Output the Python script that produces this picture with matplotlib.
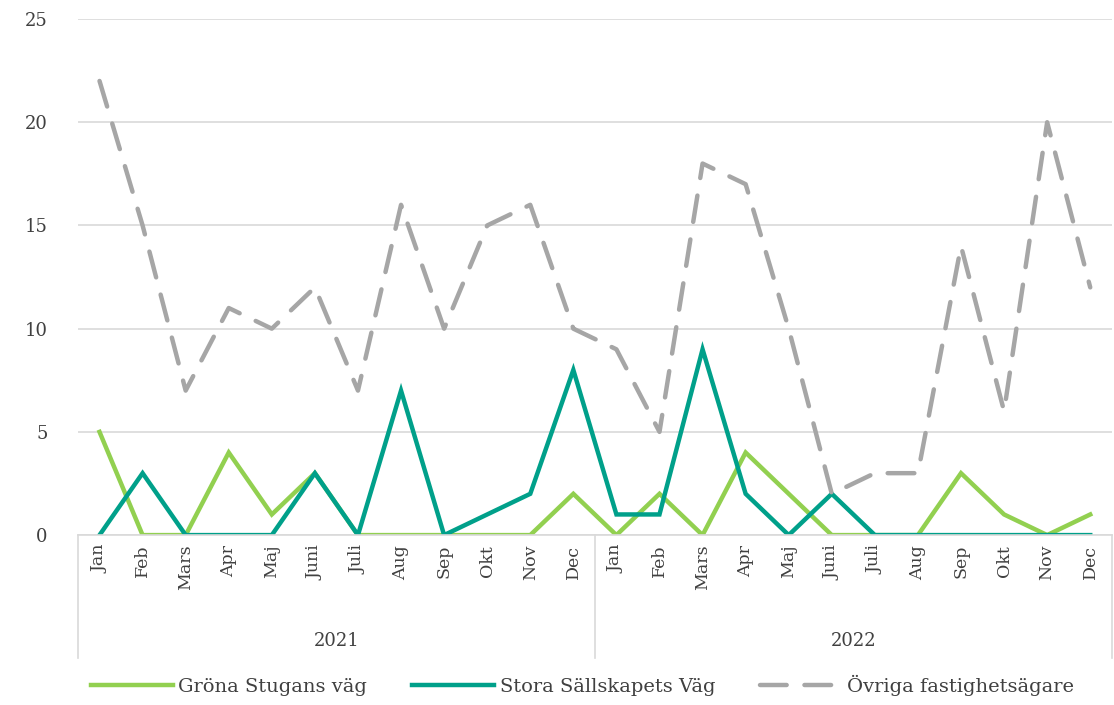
import matplotlib.pyplot as plt
import matplotlib.transforms as mtransforms

plt.rcParams['font.family'] = ['DejaVu Serif']

months = ["Jan", "Feb", "Mars", "Apr", "Maj", "Juni", "Juli", "Aug", "Sep", "Okt", "Nov", "Dec"]
years = ["2021", "2022"]

grona = [5, 0, 0, 4, 1, 3, 0, 0, 0, 0, 0, 2,
         0, 2, 0, 4, 2, 0, 0, 0, 3, 1, 0, 1]
stora = [0, 3, 0, 0, 0, 3, 0, 7, 0, 1, 2, 8,
         1, 1, 9, 2, 0, 2, 0, 0, 0, 0, 0, 0]
ovriga = [22, 15, 7, 11, 10, 12, 7, 16, 10, 15, 16, 10,
          9, 5, 18, 17, 10, 2, 3, 3, 14, 6, 20, 12]

labels = months * len(years)
x = list(range(len(labels)))

fig = plt.figure(figsize=(11.14, 7.05), dpi=100)
ax = fig.add_axes([0.07, 0.241, 0.928, 0.732])

ax.plot(x, grona, color='#92D050', lw=3.2, label='Gröna Stugans väg', solid_joinstyle='miter')
ax.plot(x, stora, color='#00A08A', lw=3.2, label='Stora Sällskapets Väg', solid_joinstyle='miter')
ax.plot(x, ovriga, color='#A6A6A6', lw=3.2, ls=(0, (6, 4)), dash_capstyle='round',
        label='Övriga fastighetsägare')

ax.set_xlim(-0.5, len(labels) - 0.5)
ax.set_ylim(0, 25)
ax.set_yticks(range(0, 26, 5))
ax.grid(axis='y', color='#D9D9D9', lw=1.2)
ax.set_axisbelow(True)
for s in ['top', 'right', 'left']:
    ax.spines[s].set_visible(False)
ax.spines['bottom'].set_color('#D9D9D9')
ax.spines['bottom'].set_linewidth(1.2)

ax.set_xticks(x)
ax.set_xticklabels(labels, rotation=90, fontsize=12.5, color='#404040')
ax.tick_params(axis='x', length=0, pad=7)
ax.tick_params(axis='y', length=0, pad=22, labelsize=13, labelcolor='#404040')

# year level of the category axis
trans = mtransforms.blended_transform_factory(ax.transData, ax.transAxes)
for i, yr in enumerate(years):
    ax.text(i * 12 + 5.5, -0.205, yr, transform=trans, ha='center', va='center',
            fontsize=13, color='#404040')
for b in range(len(years) + 1):
    ax.plot([b * 12 - 0.5, b * 12 - 0.5], [0, -0.238], transform=trans,
            color='#D9D9D9', lw=1.2, clip_on=False)

fig.legend(loc='lower center', bbox_to_anchor=(0.523, -0.012), ncol=3, frameon=False,
           fontsize=14, handlelength=4.2, columnspacing=2.3, handletextpad=0.3,
           labelcolor='#404040')

fig.savefig('out.png', dpi=100)
